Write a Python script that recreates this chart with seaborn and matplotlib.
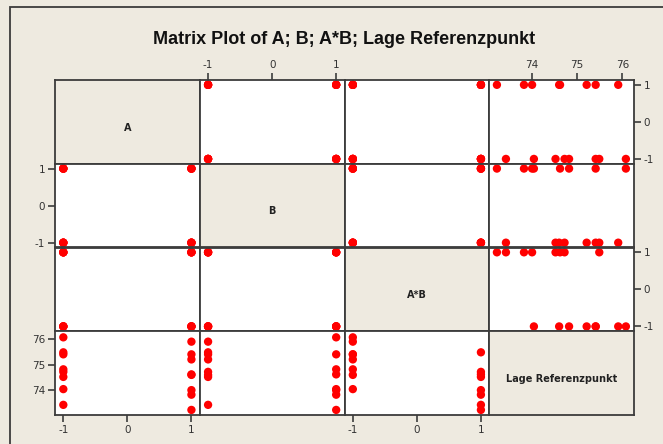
import pandas as pd
import matplotlib.pyplot as plt
import matplotlib.patches as mpatches
import seaborn as sns

# Daten
col_names = ['A', 'B', 'A*B', 'Lage Referenzpunkt']
a_vals = [-1, -1, -1, -1, 1, 1, 1, 1, -1, -1, -1, -1, 1, 1, 1, 1]
b_vals = [-1, -1, -1, -1, -1, -1, -1, -1, 1, 1, 1, 1, 1, 1, 1, 1]
ab_vals = [1, 1, 1, 1, -1, -1, -1, -1, -1, -1, -1, -1, 1, 1, 1, 1]
lage_vals = [73.42, 74.52, 74.72, 75.49, 74.60, 75.21, 75.41, 75.91,
             74.04, 74.82, 75.41, 76.08, 73.22, 73.82, 74.00, 74.62]

factor_ticks = [-1, 0, 1]
lage_ticks = [74, 75, 76]

df = pd.DataFrame({'A': a_vals, 'B': b_vals, 'A*B': ab_vals,
                   'Lage Referenzpunkt': lage_vals})

bg = '#EEEAE0'
frame = '#3c3c3c'
sns.set_style('white')
plt.rcParams['font.family'] = ['DejaVu Sans']
plt.rcParams['axes.unicode_minus'] = False

g = sns.PairGrid(df, vars=col_names, height=0.8375, aspect=1.728, despine=False)
g.map_offdiag(sns.scatterplot, color='#FF0000', s=36, edgecolor='none', linewidth=0)

fig = g.figure
fig.set_size_inches(6.63, 4.44)
fig.set_facecolor(bg)
fig.subplots_adjust(left=55 / 663, right=634 / 663, top=1 - 80 / 444,
                    bottom=1 - 415 / 444, wspace=0, hspace=0)

# Achsenbereiche
for k in range(3):
    g.axes[0, k].set_xlim(-1.13, 1.13)
    g.axes[k, 0].set_ylim(-1.13, 1.13)
    g.axes[0, k].set_xticks(factor_ticks)
    g.axes[k, 0].set_yticks(factor_ticks)
g.axes[0, 3].set_xlim(73.05, 76.26)
g.axes[3, 0].set_ylim(73.02, 76.32)
g.axes[0, 3].set_xticks(lage_ticks)
g.axes[3, 0].set_yticks(lage_ticks)

for i in range(4):
    for j in range(4):
        ax = g.axes[i, j]
        ax.set_xlabel('')
        ax.set_ylabel('')
        ax.tick_params(which='both', bottom=False, top=False, left=False, right=False,
                       labelbottom=False, labeltop=False, labelleft=False, labelright=False,
                       direction='out', length=5, width=1.2, color=frame,
                       labelsize=7.5, labelcolor='#333333', pad=2)
        for sp in ax.spines.values():
            sp.set_color(frame)
            sp.set_linewidth(1.3)
        if i == j:
            ax.set_facecolor(bg)
            ax.text(0.5, 0.43, col_names[i], transform=ax.transAxes, ha='center',
                    va='center', fontsize=7, fontweight='bold', color='#222222')
        else:
            ax.set_facecolor('white')

# Beschriftungen abwechselnd
g.axes[3, 0].tick_params(bottom=True, labelbottom=True)
g.axes[3, 2].tick_params(bottom=True, labelbottom=True)
g.axes[0, 1].tick_params(top=True, labeltop=True)
g.axes[0, 3].tick_params(top=True, labeltop=True)
g.axes[0, 3].tick_params(right=True, labelright=True)
g.axes[2, 3].tick_params(right=True, labelright=True)
g.axes[1, 0].tick_params(left=True, labelleft=True)
g.axes[3, 0].tick_params(left=True, labelleft=True)

# Rahmen um die Grafik
fig.patches.append(mpatches.Rectangle((10 / 663, -0.05), 1.1, 1 - 7 / 444 + 0.05,
                                      transform=fig.transFigure, fill=False,
                                      edgecolor=frame, linewidth=1.3, zorder=0))

fig.text(344 / 663, 1 - 40 / 444, 'Matrix Plot of A; B; A*B; Lage Referenzpunkt',
         ha='center', va='center', fontsize=13, fontweight='bold', color='#111111',
         family=['Liberation Sans'])

fig.savefig('out.png', dpi=100, facecolor=bg)
